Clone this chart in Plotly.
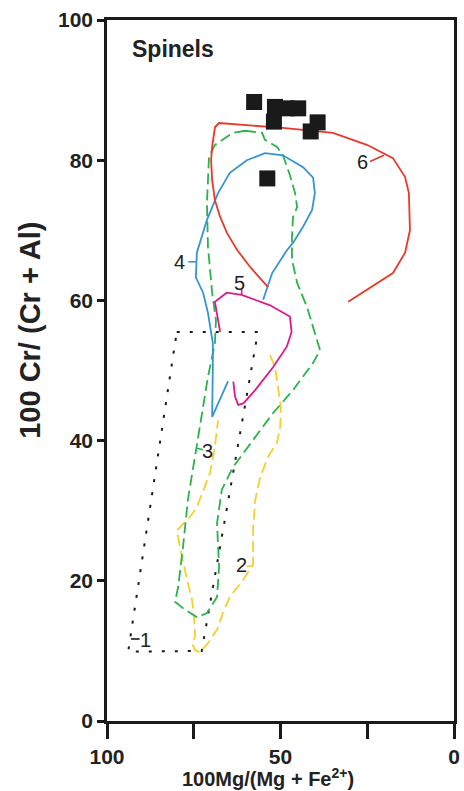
import plotly.graph_objects as go

# ---------------- data ----------------
# field 1 (black dotted)
f1_x = [79.9, 56.5, 72.7, 93.9, 79.9]
f1_y = [55.5, 55.5, 10.0, 9.9, 55.5]

# field 2 (yellow dashed)
f2_x = [53.0, 51.6, 50.7, 49.9, 50.1, 51.0, 53.6, 55.9, 57.3, 57.9, 57.9, 60.8, 64.6,
        66.6, 68.3, 70.9, 73.2, 74.6, 75.5, 74.6, 74.9, 75.5, 76.9, 79.0, 79.8, 76.1,
        74.1, 71.8, 70.3, 68.9, 68.0]
f2_y = [52.2, 50.5, 47.6, 44.8, 41.9, 39.7, 37.7, 34.7, 31.5, 27.2, 22.3, 20.1, 17.7,
        15.4, 13.0, 11.1, 9.8, 10.1, 11.1, 12.0, 14.8, 17.3, 20.1, 24.8, 27.2, 29.1,
        30.5, 33.4, 35.4, 39.1, 42.9]

# field 3 (green dashed)
f3_x = [60.2, 55.3, 54.5, 51.0, 49.3, 47.3, 45.8, 45.2, 46.4, 46.7, 46.7, 45.2, 42.4,
        38.6, 40.6, 46.4, 52.2, 59.4, 63.7, 66.9, 68.3, 67.7, 68.3, 71.2, 74.1, 78.1,
        80.4, 79.5, 78.1, 76.7, 74.1, 72.3, 70.9, 68.9, 68.6, 69.7, 70.9, 71.2, 70.6,
        68.9, 63.7, 60.2]
f3_y = [84.2, 83.9, 82.9, 81.9, 80.7, 77.9, 75.3, 73.3, 71.9, 69.0, 65.8, 62.5, 59.1,
        52.9, 51.1, 47.2, 43.9, 39.1, 36.2, 33.0, 28.2, 22.0, 17.7, 15.4, 14.8, 16.1,
        17.0, 19.1, 24.8, 31.5, 39.1, 44.4, 49.1, 53.9, 57.2, 61.1, 67.6, 73.9, 80.5,
        82.2, 83.9, 84.2]

# field 4 (blue)
f4_x = [55.0, 53.6, 52.4, 48.1, 46.4, 43.5, 40.9, 40.1, 40.6, 43.5, 49.3, 54.5, 59.7,
        64.6, 68.0, 71.2, 74.1, 74.4, 72.3, 70.9, 70.3, 69.5, 69.5, 69.7, 65.1]
f4_y = [60.1, 62.2, 63.9, 67.2, 68.2, 70.5, 72.9, 75.3, 77.5, 79.0, 80.7, 81.0, 80.0,
        78.2, 75.3, 71.5, 66.8, 63.3, 61.1, 58.2, 56.2, 53.9, 50.5, 43.4, 48.5]

# field 5 (magenta)
f5_x = [67.4, 68.9, 65.5, 61.2, 53.0, 47.3, 46.8, 48.2, 52.1, 57.3, 60.7, 62.2, 63.1, 63.6]
f5_y = [55.5, 59.8, 61.1, 60.8, 59.3, 57.7, 55.5, 53.4, 50.5, 47.2, 45.3, 45.1, 46.3, 48.4]

# field 6 (red)
f6_x = [53.6, 58.8, 62.5, 65.4, 67.4, 68.9, 69.7, 70.0, 69.7, 68.9, 67.7, 49.3, 34.9,
        25.1, 17.6, 14.1, 13.0, 12.7, 14.1, 17.6, 30.5]
f6_y = [61.9, 64.8, 67.2, 69.6, 71.9, 74.3, 77.2, 80.0, 81.9, 84.7, 85.3, 84.6, 83.9,
        82.2, 80.3, 77.6, 75.3, 70.0, 66.8, 63.9, 59.8]

# samples (black squares)
sample_x = [57.6, 51.6, 48.2, 44.9, 51.9, 39.3, 41.3, 53.8]
sample_y = [88.3, 87.6, 87.4, 87.4, 85.5, 85.4, 84.1, 77.4]

# field labels and leader lines
label_text = ["1", "2", "3", "4", "5", "6"]
label_x = [89.0, 61.3, 70.9, 79.0, 61.7, 26.3]
label_y = [11.6, 22.3, 38.5, 65.5, 62.5, 79.8]
leader_x = [[93.1, 90.6], [59.7, 57.9], [74.1, 72.3], [76.6, 74.2], [61.2, 61.2], [24.2, 20.2]]
leader_y = [[11.7, 11.7], [22.1, 22.1], [38.9, 38.7], [65.5, 65.5], [61.6, 60.8], [79.8, 80.7]]

x_tickvals = [100, 50, 0]
x_ticktext = ["100", "50", "0"]
x_minor_tickvals = [75, 25]
y_tickvals = [0, 20, 40, 60, 80, 100]
y_ticktext = ["0", "20", "40", "60", "80", "100"]

# ---------------- styles ----------------
RED = "#e8392b"
BLUE = "#3595d3"
MAGENTA = "#dc1a8c"
GREEN = "#2bb34b"
YELLOW = "#f6d02a"
BLACK = "#1a1a1a"
FONT = "Liberation Sans, Arial, sans-serif"

fig = go.Figure()

fig.add_trace(go.Scatter(x=f1_x, y=f1_y, mode="lines",
                         line=dict(color=BLACK, width=2, dash="3px,10px")))
fig.add_trace(go.Scatter(x=f2_x, y=f2_y, mode="lines",
                         line=dict(color=YELLOW, width=1.8, dash="11px,5px")))
fig.add_trace(go.Scatter(x=f3_x, y=f3_y, mode="lines",
                         line=dict(color=GREEN, width=1.8, dash="11px,5px")))
fig.add_trace(go.Scatter(x=f4_x, y=f4_y, mode="lines",
                         line=dict(color=BLUE, width=1.8)))
fig.add_trace(go.Scatter(x=f5_x, y=f5_y, mode="lines",
                         line=dict(color=MAGENTA, width=1.8)))
fig.add_trace(go.Scatter(x=f6_x, y=f6_y, mode="lines",
                         line=dict(color=RED, width=1.8)))

leader_colors = [BLACK, YELLOW, GREEN, BLUE, MAGENTA, RED]
for lx, ly, c in zip(leader_x, leader_y, leader_colors):
    fig.add_trace(go.Scatter(x=lx, y=ly, mode="lines", line=dict(color=c, width=1.6)))

fig.add_trace(go.Scatter(x=sample_x, y=sample_y, mode="markers",
                         marker=dict(symbol="square", size=16, color=BLACK,
                                     line=dict(width=0))))

for t, x, y in zip(label_text, label_x, label_y):
    fig.add_annotation(x=x, y=y, text=t, showarrow=False,
                       font=dict(family=FONT, size=20, color="#222222"))

fig.add_annotation(xref="paper", yref="paper", x=0.066, y=0.9586, xanchor="left",
                   yanchor="middle", text="<b>Spinels</b>", showarrow=False,
                   font=dict(family=FONT, size=23, color="#222222"))
fig.add_annotation(xref="paper", yref="paper", x=0.464, y=-0.0813, xanchor="center",
                   yanchor="middle", text="<b>100Mg/(Mg + Fe<sup>2+</sup>)</b>",
                   showarrow=False, font=dict(family=FONT, size=20, color="#222222"))
fig.add_annotation(xref="paper", yref="paper", x=-0.222, y=0.558, xanchor="center",
                   yanchor="middle", text="<b>100 Cr/ (Cr + Al)</b>", textangle=-90,
                   showarrow=False, font=dict(family=FONT, size=29, color="#222222"))

axis_common = dict(showgrid=False, zeroline=False, showline=True, linecolor=BLACK,
                   linewidth=2.5, mirror=True, ticks="outside", tickcolor=BLACK,
                   tickwidth=2.5, automargin=False,
                   tickfont=dict(family=FONT, size=21, color="#222222", weight="bold"))

fig.update_xaxes(range=[100, 0], tickmode="array", tickvals=x_tickvals,
                 ticktext=x_ticktext, ticklen=15,
                 minor=dict(tickmode="array", tickvals=x_minor_tickvals, ticks="outside",
                            ticklen=15, tickwidth=2.5, tickcolor=BLACK, showgrid=False),
                 **axis_common)
fig.update_yaxes(range=[0, 100], tickmode="array", tickvals=y_tickvals,
                 ticktext=y_ticktext, ticklen=7, **axis_common)

fig.update_layout(width=464, height=791, showlegend=False,
                  margin=dict(l=107, r=10, t=20, b=70),
                  plot_bgcolor="white", paper_bgcolor="white")

fig.write_html("out.html")
